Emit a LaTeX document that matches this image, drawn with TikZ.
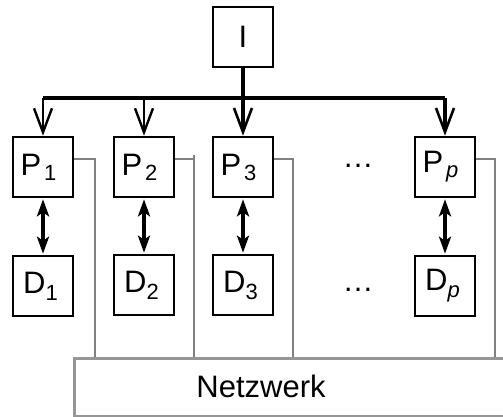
\documentclass[tikz,border=0pt]{standalone}
\usepackage{fontspec}
\setmainfont{Liberation Sans}
\usetikzlibrary{arrows.meta}
\definecolor{netgray}{RGB}{128,128,128}
\definecolor{netbox}{RGB}{150,150,150}
\newcommand{\psub}[1]{\kern3pt\raisebox{-5pt}{\fontsize{22}{22}\selectfont #1}\kern9pt}
\newcommand{\dsub}[1]{\raisebox{-7pt}{\fontsize{22}{22}\selectfont #1}\kern5pt}
\tikzset{
  box/.style={draw=black, line width=2.6pt, minimum width=60pt, minimum height=60pt, inner sep=0pt, font=\fontsize{31}{32}\selectfont},
  lbl/.style={inner sep=0pt, font=\fontsize{31}{32}\selectfont},
  bus/.style={line width=3.5pt},
  feed/.style={line width=2.6pt, -{Straight Barb[length=24pt,width=18pt,line width=2.4pt]}},
  feedthick/.style={line width=3.5pt, -{Straight Barb[length=24pt,width=18pt,line width=2.6pt]}},
  dbl/.style={line width=3.5pt, {Stealth[length=17pt,width=12pt,inset=4pt]}-{Stealth[length=17pt,width=12pt,inset=4pt]}, shorten <=1pt, shorten >=1pt},
  net/.style={draw=netgray, line width=2.6pt},
}
\begin{document}
\begin{tikzpicture}[x=1pt,y=-1pt]
\useasboundingbox (0,0) rectangle (503,416);
% network box
\node[draw=netbox, line width=2.6pt, minimum width=440pt, minimum height=58pt, inner sep=0pt, anchor=north west] (N) at (73,357) {};
\node[lbl] (NT) at (261,386) {Netzwerk};
% processors
\node[box] (I) at (243,37) {I};
\node[box] (P1) at (43,167) {P\psub{1}};
\node[box] (P2) at (144,167) {P\psub{2}};
\node[box] (P3) at (243,167) {P\psub{3}};
\node[box] (Pp) at (445,167) {P\psub{\itshape p}};
\node[box] (D1) at (43,286) {D\dsub{1}};
\node[box] (D2) at (144,285) {D\dsub{2}};
\node[box] (D3) at (243,285) {D\dsub{3}};
\node[box] (Dp) at (445,286) {D\dsub{\itshape p}};
\node[lbl] (dots1) at (358,166) {…};
\node[lbl] (dots2) at (358,290) {…};
% bus
\coordinate (busL) at (43,98);
\coordinate (busR) at (445,98);
\coordinate (n1) at (95,357);
\coordinate (n2t) at (194,155);
\coordinate (n2h) at (194,159);
\coordinate (n2) at (194,357);
\coordinate (n3) at (293,357);
\coordinate (n4) at (495,357);
\draw[bus] (I.south) -- (I.south |- busL);
\draw[bus] (busL) -- (busR);
\draw[feed] (busL) -- (P1.north);
\draw[feed] (P2.north |- busL) -- (P2.north);
\draw[feedthick] (P3.north |- busL) -- (P3.north);
\draw[feedthick] (busR) -- (Pp.north);
% P <-> D
\draw[dbl] (P1.south) -- (D1.north);
\draw[dbl] (P2.south) -- (D2.north);
\draw[dbl] (P3.south) -- (D3.north);
\draw[dbl] (Pp.south) -- (Dp.north);
% network connections
\draw[net] ([yshift=8pt]P1.east) -| (n1);
\draw[net] ([yshift=8pt]P2.east) -- (n2h);
\draw[net] (n2t) -- (n2);
\draw[net] ([yshift=8pt]P3.east) -| (n3);
\draw[net] ([yshift=8pt]Pp.east) -| (n4);
\end{tikzpicture}
\end{document}
